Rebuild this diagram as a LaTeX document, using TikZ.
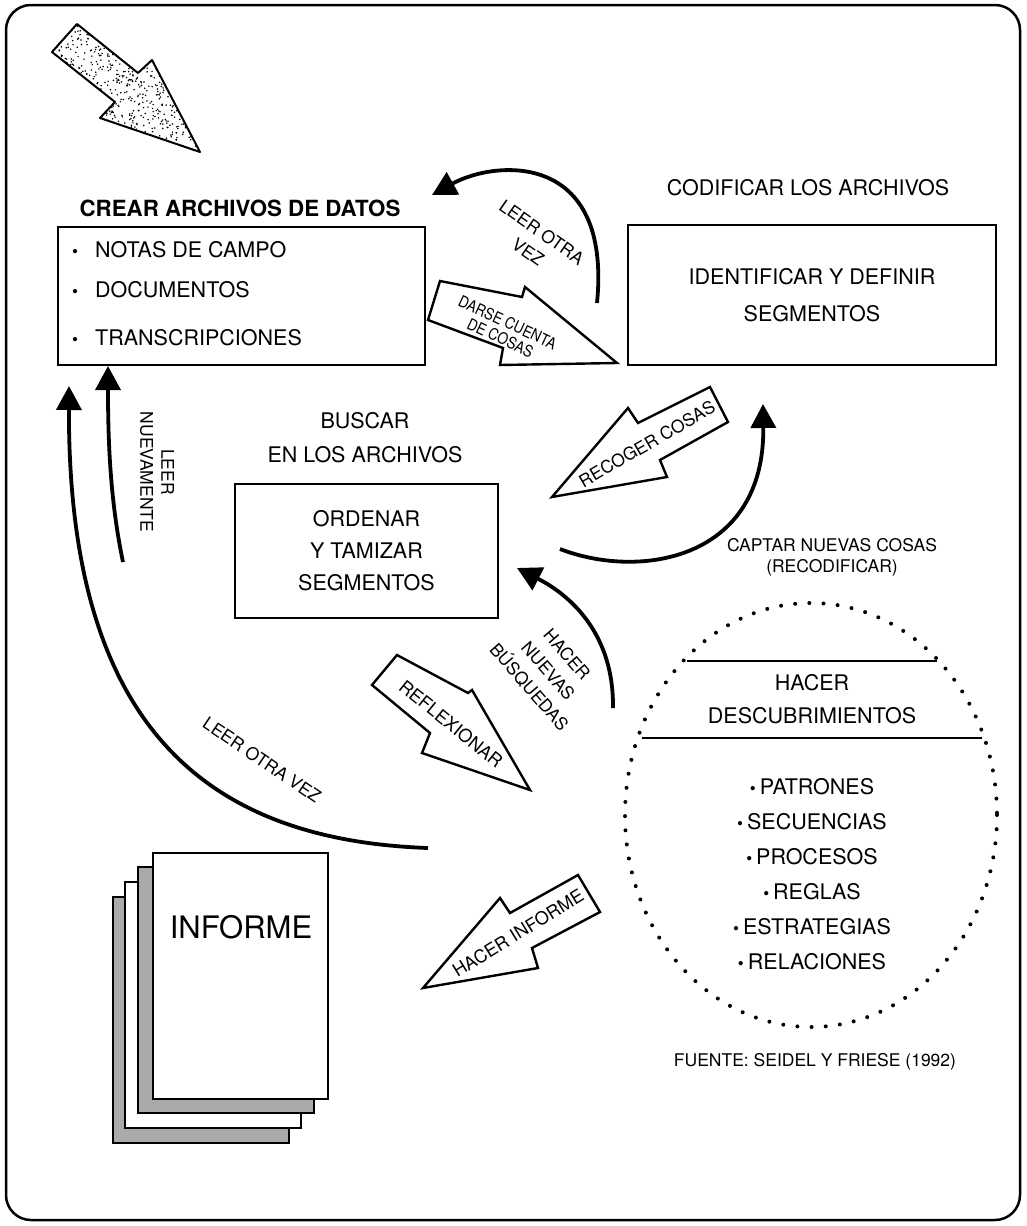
\documentclass[tikz,border=0pt]{standalone}
\usepackage{fontspec}
\setmainfont{TeX Gyre Heros}
\newfontfamily\condfont[FakeStretch=0.86]{TeX Gyre Heros}
\usetikzlibrary{arrows.meta}
\newcommand{\sbul}{{\fontsize{17}{17}\selectfont\textbullet}}
\newcommand{\bitem}{\makebox[23pt][l]{\sbul}}
\begin{document}
\begin{tikzpicture}[x=1pt,y=-1pt,
  box/.style={draw, line width=2.2pt, inner sep=0pt},
  big/.style={font=\fontsize{21.5}{26}\selectfont, inner sep=0pt},
  lab/.style={font=\fontsize{17.5}{21}\selectfont, align=center, inner sep=0pt},
  blockarrow/.style={draw, line width=2.4pt, fill=white, line join=miter},
  curvearrow/.style={line width=3.8pt, -{Triangle[length=24pt,width=25pt]}},
  sheet/.style={draw, line width=2pt},
]
\useasboundingbox (0,0) rectangle (1026,1226);
% outer frame
\draw[line width=2.5pt, rounded corners=25pt] (6,5) rectangle (1020,1220);

% stippled arrow (top left)
\begin{scope}
\clip (77,24) -- (138,73) -- (152,60) -- (200,152) -- (100,118) -- (115,102) -- (52,52) -- cycle;
\pgfmathsetseed{7}
\foreach \i in {1,...,1000}{
  \pgfmathsetmacro{\rx}{50+152*rnd}
  \pgfmathsetmacro{\ry}{22+132*rnd}
  \fill (\rx,\ry) circle (0.85);
}
\end{scope}
\draw[line width=2pt, line join=round] (77,24) -- (138,73) -- (152,60) -- (200,152) -- (100,118) -- (115,102) -- (52,52) -- cycle;

% box 1
\node[font=\bfseries\fontsize{22.3}{26}\selectfont, inner sep=0pt] (crearT) at (240,208) {CREAR ARCHIVOS DE DATOS};
\node[box, minimum width=367pt, minimum height=138pt] (crear) at (241.5,296) {};
\node[big, anchor=west] (i1) at (72,250) {\bitem NOTAS DE CAMPO};
\node[big, anchor=west] (i2) at (72,290) {\bitem DOCUMENTOS};
\node[big, anchor=west] (i3) at (72,338) {\bitem TRANSCRIPCIONES};

% box 2
\node[big] (codifT) at (808,188) {CODIFICAR LOS ARCHIVOS};
\node[box, minimum width=368pt, minimum height=140pt, align=center, font=\fontsize{21.5}{37}\selectfont] (codif) at (812,295) {IDENTIFICAR Y DEFINIR\\SEGMENTOS};

% box 3
\node[big, align=center, font=\fontsize{21.5}{34}\selectfont] (buscarT) at (365,438) {BUSCAR\\EN LOS ARCHIVOS};
\node[box, minimum width=263pt, minimum height=134pt, align=center, font=\fontsize{21.5}{32}\selectfont] (orden) at (366.5,551) {ORDENAR\\Y TAMIZAR\\SEGMENTOS};

% discoveries ellipse
\draw[line width=4pt, dash pattern=on 0pt off 14.2pt, line cap=round] (811,815) ellipse [x radius=186, y radius=212];
\draw[line width=2pt] (687,661) -- (937,661);
\draw[line width=2pt] (642,738) -- (982,738);
\node[big, align=center, font=\fontsize{21.5}{33}\selectfont] (hacer) at (812,699.5) {HACER\\DESCUBRIMIENTOS};
\node[align=center, inner sep=0pt, font=\fontsize{21.5}{35}\selectfont] (items) at (812,874.5)
  {\sbul\hspace{4pt}PATRONES\\\sbul\hspace{4pt}SECUENCIAS\\\sbul\hspace{4pt}PROCESOS\\\sbul\hspace{4pt}REGLAS\\\sbul\hspace{4pt}ESTRATEGIAS\\\sbul\hspace{4pt}RELACIONES};
\node[lab] (fuente) at (815,1062) {FUENTE: SEIDEL Y FRIESE (1992)};

% report stack
\draw[sheet, fill=gray!67] (113,897) rectangle (289,1143);
\draw[sheet, fill=white] (125,882) rectangle (301,1128);
\draw[sheet, fill=gray!67] (138,867) rectangle (314,1113);
\draw[sheet, fill=white] (153,853) rectangle (328,1099);
\node[inner sep=0pt, font=\fontsize{31}{36}\selectfont] (informe) at (241,927) {INFORME};

% block arrows
\draw[blockarrow] (440,281) -- (522,297) -- (525,287) -- (617,363) -- (500,365) -- (503,348) -- (428,320) -- cycle;
\node[align=center, inner sep=0pt, rotate=-25, font=\condfont\fontsize{16}{17}\selectfont] (darse) at (504,330) {DARSE CUENTA\\DE COSAS};

\draw[blockarrow] (710,387) -- (728,422) -- (660,460) -- (667,477) -- (552,497) -- (628,408) -- (638,423) -- cycle;
\node[lab, rotate=30] (recoger) at (647,444) {RECOGER COSAS};

\draw[blockarrow] (397,655) -- (468,693) -- (472,690) -- (530,790) -- (422,753) -- (430,733) -- (372,685) -- cycle;
\node[lab, rotate=-39, font=\fontsize{18}{21}\selectfont] (reflex) at (451,724) {REFLEXIONAR};

\draw[blockarrow] (578,875) -- (600,912) -- (532,948) -- (538,968) -- (423,988) -- (500,898) -- (510,913) -- cycle;
\node[lab, rotate=31.6, font=\fontsize{18}{21}\selectfont] (hinforme) at (518,933) {HACER INFORME};

% curved arrows
\coordinate (a1s) at (597,303);
\coordinate (a1e) at (432,195);
\draw[curvearrow] (a1s) .. controls (612,150) and (495,160) .. (a1e);
\node[lab, rotate=-35, font=\fontsize{17.5}{24}\selectfont] (leer1) at (535,242) {LEER OTRA\\VEZ};

\coordinate (a2s) at (560,549);
\coordinate (a2e) at (763,404);
\draw[curvearrow] (a2s) .. controls (640,580) and (765,560) .. (a2e);
\node[lab] (captar) at (832,557) {CAPTAR NUEVAS COSAS\\(RECODIFICAR)};

\coordinate (a3s) at (613,708);
\coordinate (a3e) at (517,568);
\draw[curvearrow] (a3s) .. controls (614,625) and (560,590) .. (a3e);
\node[lab, rotate=-49, font=\fontsize{17.5}{25}\selectfont] (busq) at (548,671) {HACER\\NUEVAS\\BÚSQUEDAS};

\coordinate (a4s) at (123,562);
\coordinate (a4e) at (108,366);
\draw[curvearrow] (a4s) .. controls (110,500) and (108,440) .. (a4e);
\node[lab, rotate=-90] (leer2) at (157,472) {LEER\\NUEVAMENTE};

\coordinate (a5s) at (428,848);
\coordinate (a5e) at (69,386);
\draw[curvearrow] (a5s) .. controls (200,840) and (68,720) .. (a5e);
\node[lab, rotate=-34] (leer3) at (262,760) {LEER OTRA VEZ};
\end{tikzpicture}
\end{document}
